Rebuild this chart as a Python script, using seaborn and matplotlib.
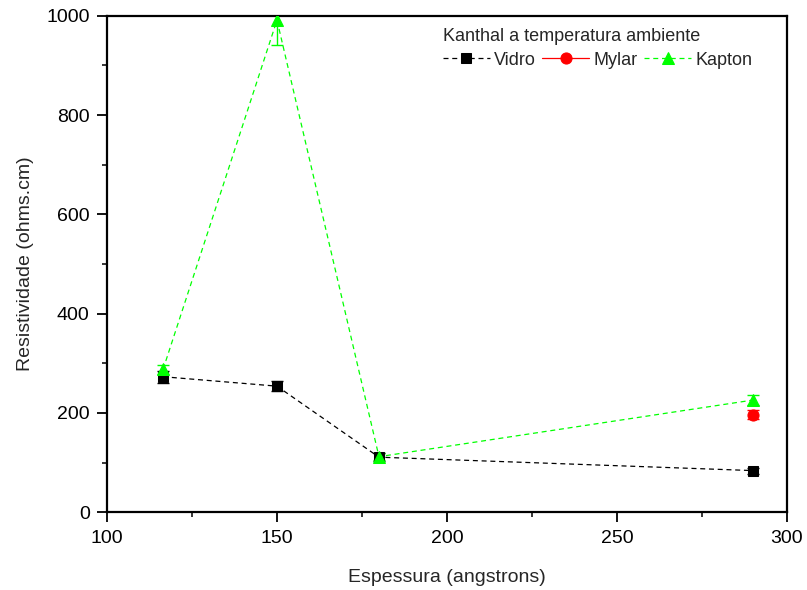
import matplotlib
matplotlib.use("Agg")
import matplotlib.pyplot as plt
import seaborn as sns
import pandas as pd
from matplotlib.ticker import MultipleLocator

# espessura (angstrons) e resistividade (ohms.cm)
vidro_x = [116.5, 150, 180, 290]
vidro_y = [273, 254, 111, 84]
vidro_err = [12, 10, 8, 6]

mylar_x = [290]
mylar_y = [196]
mylar_err = [9]

kapton_x = [116.5, 150, 180, 290]
kapton_y = [288, 991, 112, 226]
kapton_err = [9, 50, 7, 10]

sns.set_style("ticks")
plt.rcParams['font.family'] = ['Liberation Sans', 'DejaVu Sans']

fig = plt.figure(figsize=(8.07, 5.90), dpi=100)
ax = fig.add_axes([0.1326, 0.1317, 0.8425, 0.8417])

series = [
    ("Vidro", vidro_x, vidro_y, vidro_err, "black", "s", (0, (4, 3)), 6.5),
    ("Mylar", mylar_x, mylar_y, mylar_err, "red", "o", "-", 8),
    ("Kapton", kapton_x, kapton_y, kapton_err, "#00ff00", "^", (0, (4, 3)), 8.5),
]

for name, xs, ys, errs, col, mk, ls, ms in series:
    d = pd.DataFrame({"x": xs, "y": ys})
    ax.errorbar(xs, ys, yerr=errs, fmt="none", ecolor=col, elinewidth=1,
                capsize=4, capthick=1, zorder=2)
    sns.lineplot(data=d, x="x", y="y", ax=ax, color=col, marker=mk,
                 markersize=ms, markeredgecolor=col, linestyle=ls,
                 linewidth=0.9, label=name, zorder=3, sort=False)

ax.set_xlim(100, 300)
ax.set_ylim(0, 1000)
ax.xaxis.set_major_locator(MultipleLocator(50))
ax.xaxis.set_minor_locator(MultipleLocator(25))
ax.yaxis.set_major_locator(MultipleLocator(200))
ax.yaxis.set_minor_locator(MultipleLocator(100))
ax.tick_params(which="major", direction="out", length=7.5, width=1.3, pad=5,
               labelsize=14, colors="black")
ax.tick_params(which="minor", direction="out", length=3.5, width=1.3)
for s in ax.spines.values():
    s.set_linewidth(1.6)
    s.set_color("black")

ax.set_xlabel("Espessura (angstrons)", fontsize=14, labelpad=16)
ax.set_ylabel("Resistividade (ohms.cm)", fontsize=14, labelpad=9)

leg = ax.legend(title="Kanthal a temperatura ambiente", ncol=3, frameon=False,
                loc="upper right", bbox_to_anchor=(0.955, 0.982), fontsize=13,
                title_fontsize=13, handlelength=2.6, handletextpad=0.25,
                columnspacing=0.35, borderaxespad=0.0, borderpad=0.2,
                labelspacing=0.35)
leg._legend_box.align = "left"

fig.savefig("out.png", dpi=100)
